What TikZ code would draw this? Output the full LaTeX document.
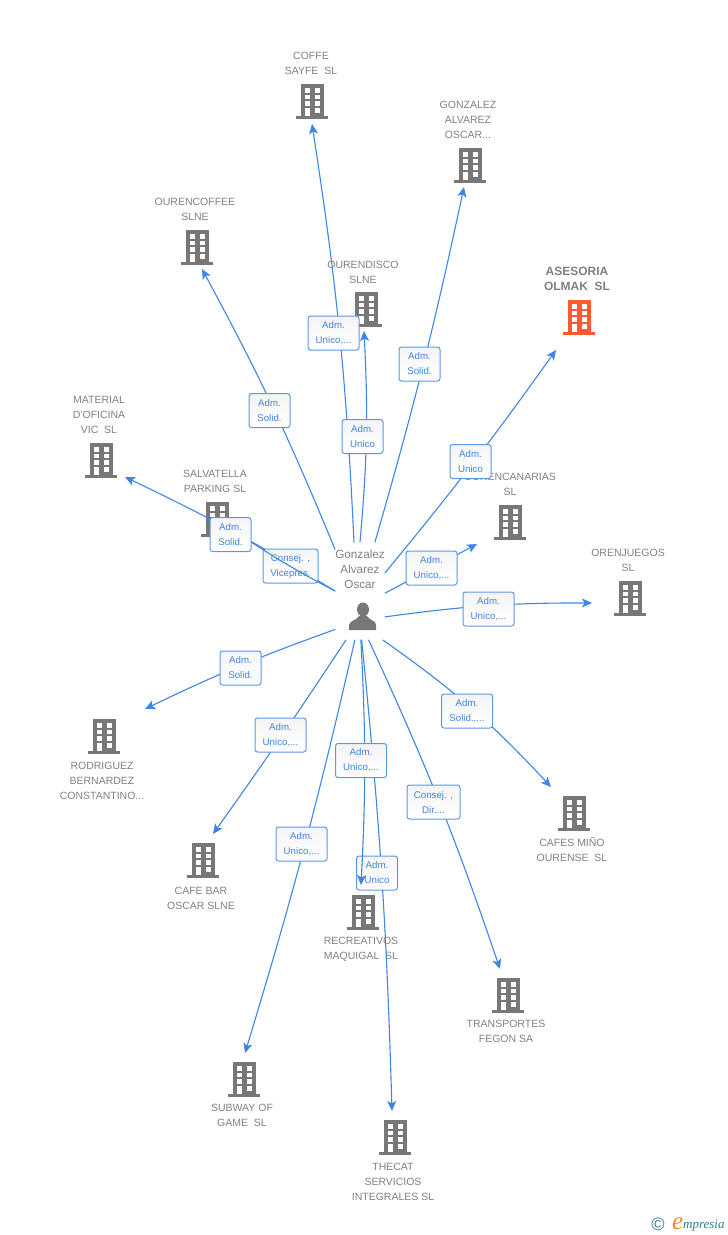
\documentclass[tikz,border=0pt]{standalone}
\usepackage{fontspec}
\setmainfont{Liberation Sans}
\newfontfamily\logofont{Liberation Serif}
\usetikzlibrary{arrows.meta}
\definecolor{bldgray}{HTML}{777777}
\definecolor{bldorange}{HTML}{FF5A30}
\definecolor{txtgray}{HTML}{808080}
\definecolor{linkblue}{HTML}{3F85E3}
\definecolor{logoteal}{HTML}{2B7C90}
\definecolor{logoorange}{HTML}{F28C1E}
\tikzset{
  bldg/.style={rectangle,minimum width=32pt,minimum height=35pt,inner sep=0pt,outer sep=0pt},
  owner/.style={rectangle,minimum width=50pt,minimum height=98pt,inner sep=0pt,outer sep=0pt},
  firm/.style={inner sep=0pt,align=center,text=txtgray,font=\fontsize{10.5}{15}\selectfont},
  link/.style={linkblue,line width=1.1pt,-{Stealth[length=10pt,width=9pt,inset=2.5pt]}},
  role/.style={draw=linkblue!85,line width=1pt,rounded corners=2.5pt,top color=black!4,bottom color=white,inner sep=0pt,minimum width=41pt,minimum height=34pt,align=center,text=linkblue,font=\fontsize{9.7}{15}\selectfont,execute at begin node={\rule{0pt}{9.5pt}}},
  pics/bldgicon/.style={code={
    \fill[#1] (-11.5,-17.5) rectangle (11.5,15);
    \fill[#1] (-16,15) rectangle (16,17.5);
    \foreach \wx in {-7.5,2.5} \foreach \wy in {-13,-6.5,0}
      \fill[white] (\wx,\wy) rectangle ++(5.5,4.5);
    \fill[white] (-7.5,7) rectangle (-2,15);
    \fill[white] (2.5,7) rectangle (8,11.5);
  }}
}
\begin{document}
\begin{tikzpicture}[line cap=round,line join=round, x=1pt,y=-1pt]
\useasboundingbox (0,0) rectangle (728,1235);
\foreach \n/\p in {coffe/{(312,101)},gonzalez/{(470,165)},ourencoffee/{(197,247)},ourendisco/{(366,309)},material/{(101,460)},salvatella/{(217,519)},canarias/{(510,522)},orenjuegos/{(630,598)},rodriguez/{(104,736)},cafebar/{(203,860)},cafes/{(574,813)},recreativos/{(363,912)},transportes/{(508,995)},subway/{(244,1079)},thecat/{(395,1137)}}{
  \node[bldg] (\n) at \p {};
  \pic at (\n) {bldgicon=bldgray};
}
\node[bldg] (asesoria) at (579,317) {};
\pic at (asesoria) {bldgicon=bldorange};
\node[firm] (tcoffe) at (311,63.2) {COFFE\\SAYFE~ SL};
\node[firm] (tgonzalez) at (468,119.7) {GONZALEZ\\ALVAREZ\\OSCAR...};
\node[firm] (tourencoffee) at (195,209.2) {OURENCOFFEE\\SLNE};
\node[firm] (tourendisco) at (363,272.2) {OURENDISCO\\SLNE};
\node[firm,font=\fontsize{12}{15}\selectfont\bfseries] (tasesoria) at (577,279) {ASESORIA\\OLMAK~ SL};
\node[firm] (tmaterial) at (99,414.7) {MATERIAL\\D'OFICINA\\VIC~ SL};
\node[firm] (tsalvatella) at (215,481.2) {SALVATELLA\\PARKING SL};
\node[firm] (tcanarias) at (510,484.2) {OURENCANARIAS\\SL};
\node[firm] (torenjuegos) at (628,560.2) {ORENJUEGOS\\SL};
\node[firm] (trodriguez) at (102,780.7) {RODRIGUEZ\\BERNARDEZ\\CONSTANTINO...};
\node[firm] (tcafebar) at (201,898.2) {CAFE BAR\\OSCAR SLNE};
\node[firm] (tcafes) at (572,849.7) {CAFES MIÑO\\OURENSE~ SL};
\node[firm] (trecreativos) at (361,949.2) {RECREATIVOS\\MAQUIGAL~ SL};
\node[firm] (ttransportes) at (506,1031.7) {TRANSPORTES\\FEGON SA};
\node[firm] (tsubway) at (242,1115.7) {SUBWAY OF\\GAME~ SL};
\node[firm] (tthecat) at (393,1181.7) {THECAT\\SERVICIOS\\INTEGRALES SL};
\node[owner] (owner) at (360,591) {};
\node[firm,font=\fontsize{11.7}{15}\selectfont] (townername) at (360,569.5) {Gonzalez\\Alvarez\\Oscar};
\fill[bldgray] (363,609.5) ellipse (6 and 7);
\fill[bldgray] (349,630) -- (349,625) .. controls (350,620) and (356,621) .. (359,616) -- (367,616) .. controls (370,621) and (376,620) .. (376,625) -- (376,630) -- cycle;
\coordinate (tipcoffe) at (312,124);
\coordinate (tipgonzalez) at (464,187);
\coordinate (tipdisco) at (364,331);
\coordinate (tipcoffee) at (202,269);
\coordinate (tipasesoria) at (556,350);
\coordinate (tipcanarias) at (477,544);
\coordinate (tipjuegos) at (592,603);
\coordinate (tipcafes) at (551,787);
\coordinate (tipfegon) at (500,969);
\coordinate (tipsubway) at (245,1053);
\coordinate (tipcafebar) at (213,834);
\coordinate (tiprodriguez) at (145,709);
\coordinate (tipthecat) at (392,1111);
\coordinate (tiprecre) at (361,885);
\coordinate (tipmaterial) at (125,477);
\draw[link] (owner.97) to[bend right=3] (tipcoffe);
\draw[link] (owner.73) to[bend right=2] (tipgonzalez);
\draw[link] (owner.90) to[bend right=4] (tipdisco);
\draw[link] (owner.121) to[bend right=3] (tipcoffee);
\draw[link] (owner.36) to[bend right=2] (tipasesoria);
\draw[link] (owner.-5) to (tipcanarias);
\draw[link] (owner.-46) to[bend left=4] (tipjuegos);
\draw[link] (owner.-65) to[bend left=6] (tipcafes);
\draw[link] (owner.-80) to[bend left=3] (tipfegon);
\draw[link] (owner.-96) to[bend left=2] (tipsubway);
\draw[link] (owner.-106) to[bend left=1] (tipcafebar);
\draw[link] (owner.-123) to[bend right=3] (tiprodriguez);
\draw[link] (owner.-88) to[bend left=2] (tipthecat);
\node[role] (runicothecat) at (377,873) {Adm.\\Unico};
\draw[link] (owner.-89) to[bend left=3] (tiprecre);
\draw[link] (owner.180) to[bend right=3] (tipmaterial);
\node[role,minimum width=55pt] (rconsejsalvatella) at (290.5,566) {Consej. ,\\Vicepres.};
\draw[link] (owner.180) to[bend left=3] (salvatella);
\node[role,minimum width=51pt] (runicocoffe) at (333.5,333) {Adm.\\Unico,...};
\node[role] (rsolidgonzalez) at (419.5,364) {Adm.\\Solid.};
\node[role] (runicodisco) at (362.5,436.5) {Adm.\\Unico};
\node[role] (rsolidcoffee) at (269.5,410.5) {Adm.\\Solid.};
\node[role] (runicoasesoria) at (470.5,461.5) {Adm.\\Unico};
\node[role,minimum width=51pt] (runicocanarias) at (431.5,568) {Adm.\\Unico,...};
\node[role,minimum width=51pt] (runicojuegos) at (488.5,609) {Adm.\\Unico,...};
\node[role,minimum width=51pt] (rsolidcafes) at (467,711) {Adm.\\Solid.,...};
\node[role,minimum width=53pt] (rconsejfegon) at (433.5,802) {Consej. ,\\Dir....};
\node[role,minimum width=51pt] (runicorecre) at (361,760.5) {Adm.\\Unico,...};
\node[role,minimum width=51pt] (runicosubway) at (301.5,844) {Adm.\\Unico,...};
\node[role,minimum width=51pt] (runicocafebar) at (280.5,735) {Adm.\\Unico,...};
\node[role] (rsolidrodriguez) at (240.5,668) {Adm.\\Solid.};
\node[role] (rsolidmaterial) at (230.5,534.5) {Adm.\\Solid.};
\node[inner sep=0pt,text=logoteal,font=\fontsize{18}{18}\selectfont] (logocopy) at (658,1224) {©};
\node[inner sep=0pt,anchor=base west,text=logoorange,font=\logofont\itshape\fontsize{25}{25}\selectfont] (logoe) at (672,1229.5) {e};
\node[inner sep=0pt,anchor=base west,text=logoteal,font=\logofont\itshape\fontsize{13}{13}\selectfont] (logoname) at (683,1228.5) {mpresia};
\end{tikzpicture}
\end{document}
